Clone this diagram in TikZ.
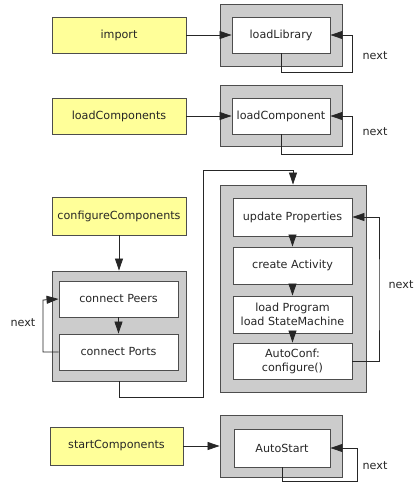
\documentclass[tikz,border=0pt]{standalone}
\usepackage{fontspec}
\setmainfont{DejaVu Sans}
\usetikzlibrary{arrows.meta}
\definecolor{stagefill}{HTML}{FFFF99}
\definecolor{groupfill}{HTML}{CCCCCC}
\definecolor{edgegray}{HTML}{4D4D4D}
\tikzset{
  base/.style={draw=edgegray, line width=0.9bp, inner sep=0pt, align=center,
    font=\fontsize{11.2}{14}\selectfont, text=black!85},
  stage/.style={base, fill=stagefill, minimum width=134bp, minimum height=36bp},
  group/.style={base, fill=groupfill},
  stepbox/.style={base, fill=white, minimum width=119bp, minimum height=37bp},
  arr/.style={draw=black!85, line width=0.8bp, -{Triangle[length=12bp,width=8bp]}},
  link/.style={draw=black!85, line width=0.8bp},
  lbl/.style={font=\fontsize{11.2}{14}\selectfont, text=black!85, inner sep=0pt},
}
\begin{document}
\begin{tikzpicture}[x=1bp, y=-1bp]
\useasboundingbox (0,0) rectangle (417,482);

% containers
\node[group, minimum width=122bp, minimum height=62bp] (libgrp) at (281,35) {};
\node[group, minimum width=122bp, minimum height=61bp] (compgrp) at (281,115.5) {};
\node[group, minimum width=134bp, minimum height=110bp] (cfggrp) at (119,326) {};
\node[group, minimum width=146bp, minimum height=207bp] (rgrp) at (293,288.5) {};
\node[group, minimum width=122bp, minimum height=62bp] (asgrp) at (281,446) {};

% stages
\node[stage] (imp) at (119,35) {import};
\node[stage] (lcs) at (119,116) {loadComponents};
\node[stage, minimum height=38bp] (cfg) at (119,216) {configureComponents};
\node[stage, minimum width=133bp, minimum height=38bp] (stc) at (116.5,446) {startComponents};

% steps
\node[stepbox, minimum width=98bp, minimum height=36bp] (lib) at (281,35) {loadLibrary};
\node[stepbox, minimum width=98bp, minimum height=36bp] (comp) at (281,116) {loadComponent};
\node[stepbox, minimum height=36bp] (peers) at (118.5,299) {connect Peers};
\node[stepbox, minimum height=36bp] (ports) at (118.5,352) {connect Ports};
\node[stepbox, minimum height=38bp] (upd) at (292.5,217) {update Properties};
\node[stepbox] (act) at (292.5,265.5) {create Activity};
\node[stepbox] (prog) at (292.5,314.5) {load Program\\load StateMachine};
\node[stepbox, minimum height=36bp] (aconf) at (292.5,361) {AutoConf:\\configure()};
\node[stepbox, minimum width=96bp, minimum height=38bp] (ast) at (282,448) {AutoStart};

% loop corners
\coordinate (libloop) at (352,72);
\coordinate (comploop) at (352,154);
\coordinate (leftloop) at (43,300);
\coordinate (rightloop) at (379,300);
\coordinate (bigA) at (203,397);
\coordinate (bigB) at (293,170);
\coordinate (asloop) at (357,481);

% connectors
\draw[arr] (imp.east) -- (lib.west);
\draw[arr] (lib.south) |- (libloop) |- (lib.east);
\draw[arr] (lcs.east) -- (comp.west);
\draw[arr] (comp.south) |- (comploop) |- (comp.east);
\draw[arr] (cfg.south) -- (cfggrp.north);
\draw[arr] (peers.south) -- (ports.north);
\draw[arr] (ports.west) -| (leftloop) -- (peers.west);
\draw[arr] (cfggrp.south) |- (bigA) |- (bigB) -- (rgrp.north);
\draw[arr] (upd.south) -- (act.north);
\draw[arr] (act.south) -- (prog.north);
\draw[arr] (prog.south) -- (aconf.north);
\draw[arr] (aconf.east) -| (rightloop) |- (upd.east);
\draw[arr] (stc.east) -- (asgrp.west);
\draw[arr] (ast.south) |- (asloop) |- (ast.east);

% loop labels
\node[lbl] (n1) at (375,56) {next};
\node[lbl] (n2) at (375,132) {next};
\node[lbl] (n3) at (23,323) {next};
\node[lbl] (n4) at (401,285) {next};
\node[lbl] (n5) at (375,466) {next};
\end{tikzpicture}
\end{document}
